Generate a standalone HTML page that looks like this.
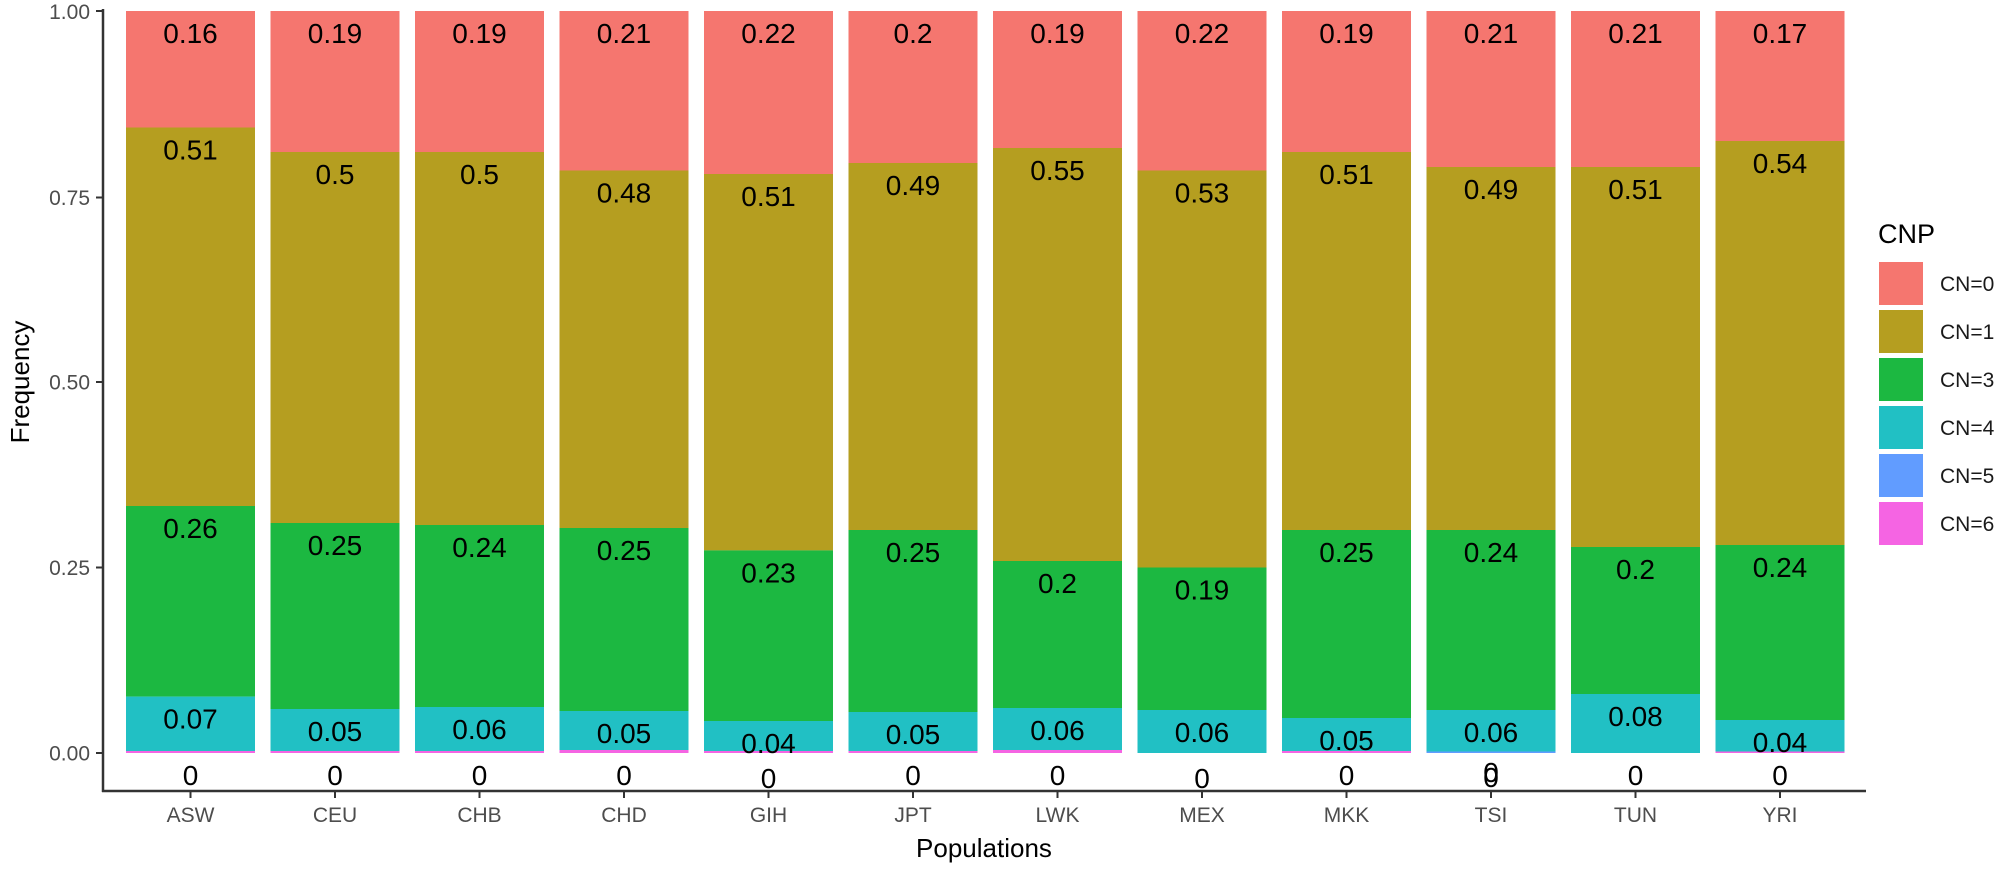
<!DOCTYPE html>
<html><head><meta charset="utf-8"><style>
html,body{margin:0;padding:0;background:#fff;}
svg{display:block;font-family:"Liberation Sans",Arial,sans-serif;}
.v{font-size:28px;fill:#000;text-anchor:middle;}
.t{font-size:21px;fill:#4d4d4d;}
</style></head><body>
<svg width="2006" height="882" viewBox="0 0 2006 882" xmlns="http://www.w3.org/2000/svg">
<g transform="translate(126,0)">
<rect x="0" y="11" width="129" height="116.5" fill="#F5766F"/><rect x="0" y="127.5" width="129" height="378.5" fill="#B59E20"/><rect x="0" y="506" width="129" height="190.6" fill="#1CB841"/><rect x="0" y="696.6" width="129" height="56.4" fill="#21C0C4"/><rect x="0" y="751" width="129" height="2" fill="#F564E3"/>
<text class="v" x="64.5" y="43">0.16</text><text class="v" x="64.5" y="159.5">0.51</text><text class="v" x="64.5" y="538">0.26</text><text class="v" x="64.5" y="728.6">0.07</text><text class="v" x="64.5" y="785">0</text></g>
<g transform="translate(270.5,0)">
<rect x="0" y="11" width="129" height="141" fill="#F5766F"/><rect x="0" y="152" width="129" height="371" fill="#B59E20"/><rect x="0" y="523" width="129" height="186" fill="#1CB841"/><rect x="0" y="709" width="129" height="44" fill="#21C0C4"/><rect x="0" y="751" width="129" height="2" fill="#F564E3"/>
<text class="v" x="64.5" y="43">0.19</text><text class="v" x="64.5" y="184">0.5</text><text class="v" x="64.5" y="555">0.25</text><text class="v" x="64.5" y="741">0.05</text><text class="v" x="64.5" y="785">0</text></g>
<g transform="translate(415,0)">
<rect x="0" y="11" width="129" height="141" fill="#F5766F"/><rect x="0" y="152" width="129" height="373" fill="#B59E20"/><rect x="0" y="525" width="129" height="182" fill="#1CB841"/><rect x="0" y="707" width="129" height="46" fill="#21C0C4"/><rect x="0" y="751" width="129" height="2" fill="#F564E3"/>
<text class="v" x="64.5" y="43">0.19</text><text class="v" x="64.5" y="184">0.5</text><text class="v" x="64.5" y="557">0.24</text><text class="v" x="64.5" y="739">0.06</text><text class="v" x="64.5" y="785">0</text></g>
<g transform="translate(559.5,0)">
<rect x="0" y="11" width="129" height="159.5" fill="#F5766F"/><rect x="0" y="170.5" width="129" height="357.5" fill="#B59E20"/><rect x="0" y="528" width="129" height="183" fill="#1CB841"/><rect x="0" y="711" width="129" height="42" fill="#21C0C4"/><rect x="0" y="750" width="129" height="3" fill="#F564E3"/>
<text class="v" x="64.5" y="43">0.21</text><text class="v" x="64.5" y="202.5">0.48</text><text class="v" x="64.5" y="560">0.25</text><text class="v" x="64.5" y="743">0.05</text><text class="v" x="64.5" y="785">0</text></g>
<g transform="translate(704,0)">
<rect x="0" y="11" width="129" height="163" fill="#F5766F"/><rect x="0" y="174" width="129" height="376.4" fill="#B59E20"/><rect x="0" y="550.4" width="129" height="170.6" fill="#1CB841"/><rect x="0" y="721" width="129" height="32" fill="#21C0C4"/><rect x="0" y="751" width="129" height="2" fill="#F564E3"/>
<text class="v" x="64.5" y="43">0.22</text><text class="v" x="64.5" y="206">0.51</text><text class="v" x="64.5" y="582.4">0.23</text><text class="v" x="64.5" y="753">0.04</text><text class="v" x="64.5" y="788">0</text></g>
<g transform="translate(848.5,0)">
<rect x="0" y="11" width="129" height="152" fill="#F5766F"/><rect x="0" y="163" width="129" height="367" fill="#B59E20"/><rect x="0" y="530" width="129" height="182" fill="#1CB841"/><rect x="0" y="712" width="129" height="41" fill="#21C0C4"/><rect x="0" y="751" width="129" height="2" fill="#F564E3"/>
<text class="v" x="64.5" y="43">0.2</text><text class="v" x="64.5" y="195">0.49</text><text class="v" x="64.5" y="562">0.25</text><text class="v" x="64.5" y="744">0.05</text><text class="v" x="64.5" y="785">0</text></g>
<g transform="translate(993,0)">
<rect x="0" y="11" width="129" height="137" fill="#F5766F"/><rect x="0" y="148" width="129" height="413" fill="#B59E20"/><rect x="0" y="561" width="129" height="147" fill="#1CB841"/><rect x="0" y="708" width="129" height="45" fill="#21C0C4"/><rect x="0" y="750" width="129" height="3" fill="#F564E3"/>
<text class="v" x="64.5" y="43">0.19</text><text class="v" x="64.5" y="180">0.55</text><text class="v" x="64.5" y="593">0.2</text><text class="v" x="64.5" y="740">0.06</text><text class="v" x="64.5" y="785">0</text></g>
<g transform="translate(1137.5,0)">
<rect x="0" y="11" width="129" height="159.5" fill="#F5766F"/><rect x="0" y="170.5" width="129" height="397" fill="#B59E20"/><rect x="0" y="567.5" width="129" height="142.5" fill="#1CB841"/><rect x="0" y="710" width="129" height="43" fill="#21C0C4"/>
<text class="v" x="64.5" y="43">0.22</text><text class="v" x="64.5" y="202.5">0.53</text><text class="v" x="64.5" y="599.5">0.19</text><text class="v" x="64.5" y="742">0.06</text><text class="v" x="64.5" y="788">0</text></g>
<g transform="translate(1282,0)">
<rect x="0" y="11" width="129" height="141" fill="#F5766F"/><rect x="0" y="152" width="129" height="378" fill="#B59E20"/><rect x="0" y="530" width="129" height="188" fill="#1CB841"/><rect x="0" y="718" width="129" height="35" fill="#21C0C4"/><rect x="0" y="751" width="129" height="2" fill="#F564E3"/>
<text class="v" x="64.5" y="43">0.19</text><text class="v" x="64.5" y="184">0.51</text><text class="v" x="64.5" y="562">0.25</text><text class="v" x="64.5" y="750">0.05</text><text class="v" x="64.5" y="785">0</text></g>
<g transform="translate(1426.5,0)">
<rect x="0" y="11" width="129" height="156" fill="#F5766F"/><rect x="0" y="167" width="129" height="363" fill="#B59E20"/><rect x="0" y="530" width="129" height="180" fill="#1CB841"/><rect x="0" y="710" width="129" height="43" fill="#21C0C4"/><rect x="0" y="751.5" width="129" height="1.5" fill="#619CFF"/>
<text class="v" x="64.5" y="43">0.21</text><text class="v" x="64.5" y="199">0.49</text><text class="v" x="64.5" y="562">0.24</text><text class="v" x="64.5" y="742">0.06</text><text class="v" x="64.5" y="782">0</text><text class="v" x="64.5" y="787">0</text></g>
<g transform="translate(1571,0)">
<rect x="0" y="11" width="129" height="156" fill="#F5766F"/><rect x="0" y="167" width="129" height="380" fill="#B59E20"/><rect x="0" y="547" width="129" height="147" fill="#1CB841"/><rect x="0" y="694" width="129" height="59" fill="#21C0C4"/>
<text class="v" x="64.5" y="43">0.21</text><text class="v" x="64.5" y="199">0.51</text><text class="v" x="64.5" y="579">0.2</text><text class="v" x="64.5" y="726">0.08</text><text class="v" x="64.5" y="785">0</text></g>
<g transform="translate(1715.5,0)">
<rect x="0" y="11" width="129" height="130" fill="#F5766F"/><rect x="0" y="141" width="129" height="404" fill="#B59E20"/><rect x="0" y="545" width="129" height="175" fill="#1CB841"/><rect x="0" y="720" width="129" height="33" fill="#21C0C4"/><rect x="0" y="751.5" width="129" height="1.5" fill="#F564E3"/>
<text class="v" x="64.5" y="43">0.17</text><text class="v" x="64.5" y="173">0.54</text><text class="v" x="64.5" y="577">0.24</text><text class="v" x="64.5" y="752">0.04</text><text class="v" x="64.5" y="785">0</text></g>

<line x1="103" y1="9" x2="103" y2="792" stroke="#333" stroke-width="2.5"/>
<line x1="102" y1="791" x2="1866" y2="791" stroke="#333" stroke-width="2.5"/>
<g stroke="#333" stroke-width="2">
<line x1="96" y1="11" x2="103" y2="11"/><line x1="96" y1="197.5" x2="103" y2="197.5"/><line x1="96" y1="382" x2="103" y2="382"/><line x1="96" y1="567.5" x2="103" y2="567.5"/><line x1="96" y1="753" x2="103" y2="753"/>
<line x1="190.5" y1="791" x2="190.5" y2="798"/><line x1="335" y1="791" x2="335" y2="798"/><line x1="479.5" y1="791" x2="479.5" y2="798"/><line x1="624" y1="791" x2="624" y2="798"/><line x1="768.5" y1="791" x2="768.5" y2="798"/><line x1="913" y1="791" x2="913" y2="798"/><line x1="1057.5" y1="791" x2="1057.5" y2="798"/><line x1="1202" y1="791" x2="1202" y2="798"/><line x1="1346.5" y1="791" x2="1346.5" y2="798"/><line x1="1491" y1="791" x2="1491" y2="798"/><line x1="1635.5" y1="791" x2="1635.5" y2="798"/><line x1="1780" y1="791" x2="1780" y2="798"/>
</g>
<g class="t" text-anchor="end">
<text x="90" y="19">1.00</text><text x="90" y="205">0.75</text><text x="90" y="389.5">0.50</text><text x="90" y="575">0.25</text><text x="90" y="760.5">0.00</text>
</g>
<g class="t" text-anchor="middle">
<text x="190.5" y="822">ASW</text><text x="335" y="822">CEU</text><text x="479.5" y="822">CHB</text><text x="624" y="822">CHD</text><text x="768.5" y="822">GIH</text><text x="913" y="822">JPT</text><text x="1057.5" y="822">LWK</text><text x="1202" y="822">MEX</text><text x="1346.5" y="822">MKK</text><text x="1491" y="822">TSI</text><text x="1635.5" y="822">TUN</text><text x="1780" y="822">YRI</text>
</g>
<text x="984" y="857" font-size="26" text-anchor="middle" fill="#000">Populations</text>
<text transform="translate(29,382) rotate(-90)" font-size="26" text-anchor="middle" fill="#000">Frequency</text>

<text x="1878" y="243" font-size="27" fill="#000">CNP</text>
<rect x="1879" y="262" width="44" height="43" fill="#F5766F"/>
<rect x="1879" y="310" width="44" height="43" fill="#B59E20"/>
<rect x="1879" y="358" width="44" height="43" fill="#1CB841"/>
<rect x="1879" y="406" width="44" height="43" fill="#21C0C4"/>
<rect x="1879" y="454" width="44" height="43" fill="#619CFF"/>
<rect x="1879" y="502" width="44" height="43" fill="#F564E3"/>
<g font-size="21" fill="#1a1a1a">
<text x="1940" y="291">CN=0</text><text x="1940" y="339">CN=1</text><text x="1940" y="387">CN=3</text><text x="1940" y="435">CN=4</text><text x="1940" y="483">CN=5</text><text x="1940" y="531">CN=6</text>
</g>
</svg>
</body></html>
